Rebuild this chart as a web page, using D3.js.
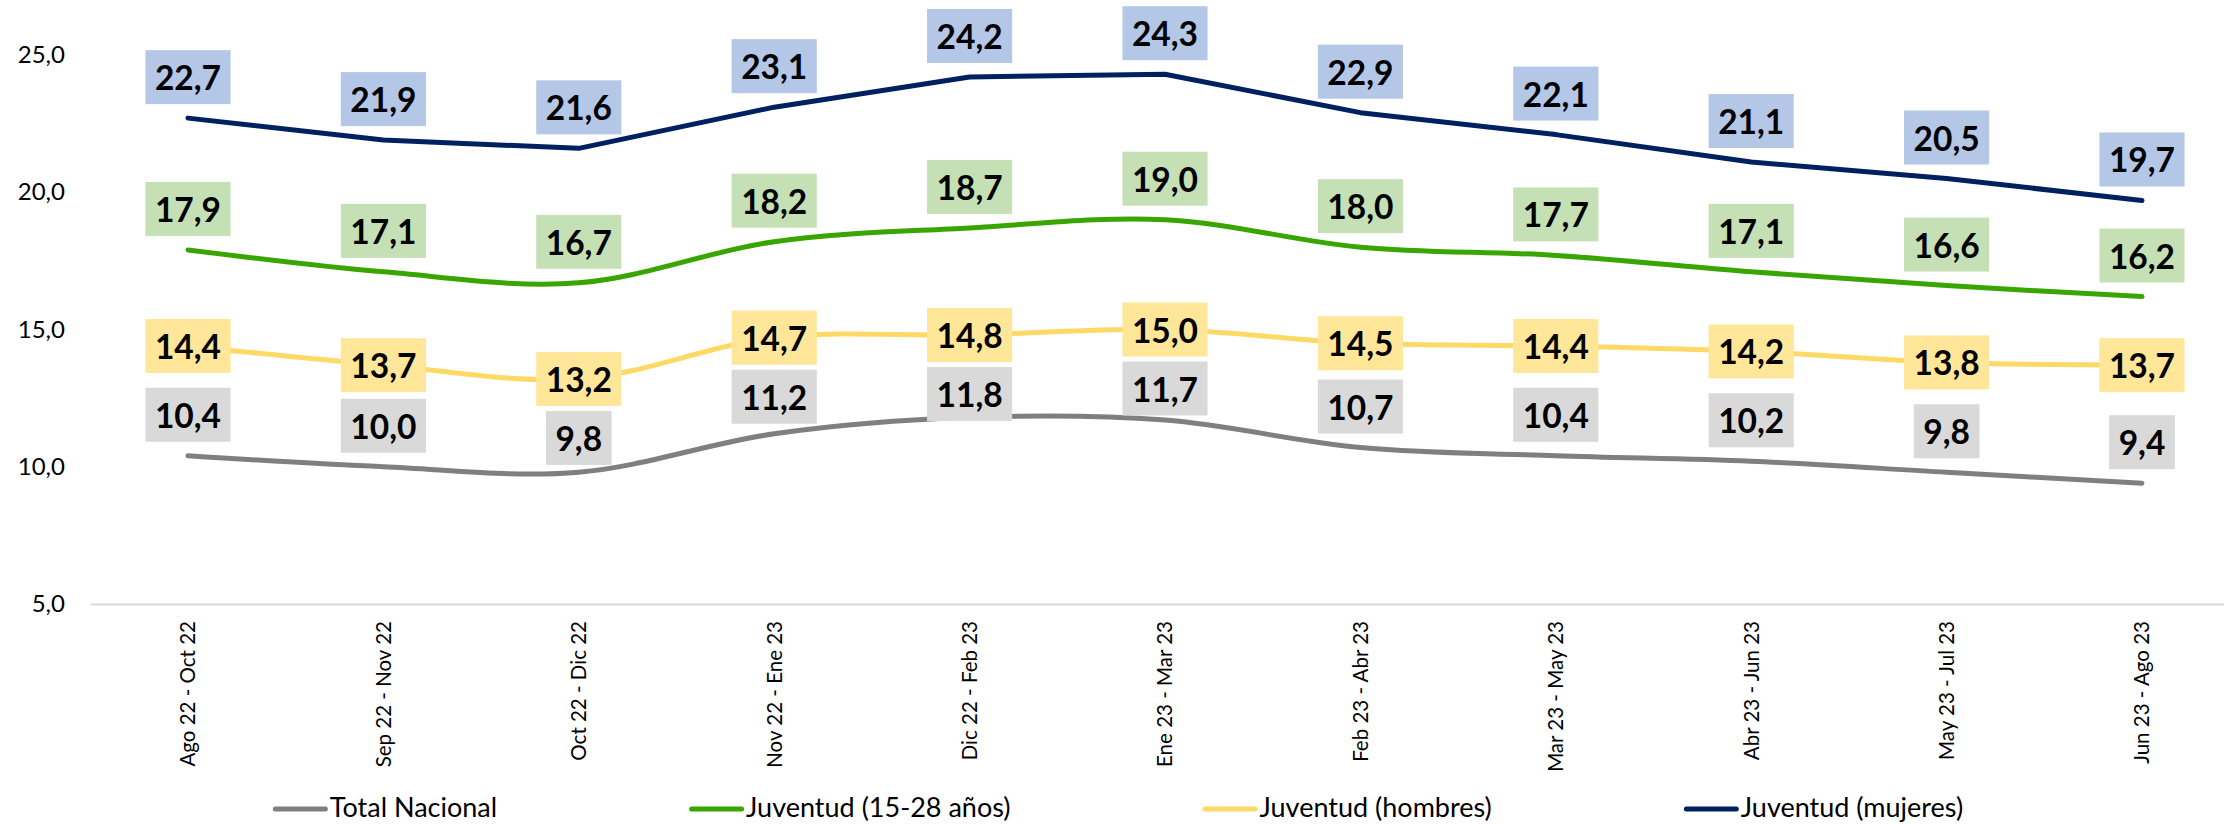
<!DOCTYPE html>
<html><head><meta charset="utf-8">
<script src="https://cdn.jsdelivr.net/npm/d3@7"></script>
<style>
body{margin:0;background:#fff}
svg{display:block;background:#fff}
text{font-family:Lato,'Open Sans',sans-serif}
</style>
</head><body>
<svg id="chart" width="2224" height="825"></svg>
<script>
const categories = ["Ago 22 - Oct 22","Sep 22 - Nov 22","Oct 22 - Dic 22","Nov 22 - Ene 23","Dic 22 - Feb 23","Ene 23 - Mar 23","Feb 23 - Abr 23","Mar 23 - May 23","Abr 23 - Jun 23","May 23 - Jul 23","Jun 23 - Ago 23"];
const totalNacional   = [10.4, 10.0, 9.8, 11.2, 11.8, 11.7, 10.7, 10.4, 10.2, 9.8, 9.4];
const juventud        = [17.9, 17.1, 16.7, 18.2, 18.7, 19.0, 18.0, 17.7, 17.1, 16.6, 16.2];
const juventudHombres = [14.4, 13.7, 13.2, 14.7, 14.8, 15.0, 14.5, 14.4, 14.2, 13.8, 13.7];
const juventudMujeres = [22.7, 21.9, 21.6, 23.1, 24.2, 24.3, 22.9, 22.1, 21.1, 20.5, 19.7];
const seriesNames = ["Total Nacional","Juventud (15-28 años)","Juventud (hombres)","Juventud (mujeres)"];
const yTicks = [5, 10, 15, 20, 25];

const svg = d3.select("#chart");
const xBand = d3.scaleBand().domain(categories).range([90.3, 2239.7]).padding(0);
const xc = c => xBand(c) + xBand.bandwidth() / 2;
const y = d3.scaleLinear().domain([5, 25]).range([604, 55]);
const loc = d3.formatLocale({decimal: ",", thousands: ".", grouping: [3], currency: ["", ""]});
const fmt = loc.format(".1f");

const smooth = d3.curveCatmullRom.alpha(0);
const series = [
  {name: seriesNames[0], values: totalNacional,   line: "#7F7F7F", box: "#D9D9D9", curve: smooth, pos: "above"},
  {name: seriesNames[1], values: juventud,        line: "#38A500", box: "#C5E0B4", curve: smooth, pos: "above"},
  {name: seriesNames[2], values: juventudHombres, line: "#FFD966", box: "#FFE699", curve: smooth, pos: "center"},
  {name: seriesNames[3], values: juventudMujeres, line: "#002060", box: "#B4C7E7", curve: d3.curveLinear, pos: "above"}
];

// X axis (baseline + rotated labels)
const xAxis = svg.append("g").attr("transform", `translate(0,${y(5)})`)
  .call(d3.axisBottom(xBand).tickSize(0).tickSizeOuter(0));
xAxis.select(".domain").attr("stroke", "#D9D9D9").attr("stroke-width", 2);
xAxis.selectAll(".tick text")
  .attr("transform", "rotate(-90)")
  .attr("text-anchor", "end")
  .attr("x", -17).attr("y", 0).attr("dy", "0.36em")
  .attr("font-size", 20.5).attr("fill", "#000")
  .style("font-family", "Lato, 'Open Sans', sans-serif");

// Y axis
const yAxis = svg.append("g").attr("transform", "translate(92,0)")
  .call(d3.axisLeft(y).tickValues(yTicks).tickFormat(fmt).tickSize(0).tickPadding(27));
yAxis.select(".domain").remove();
yAxis.selectAll(".tick text").attr("font-size", 24).attr("fill", "#000")
  .style("font-family", "Lato, 'Open Sans', sans-serif");

// Lines
const linesG = svg.append("g");
series.forEach(s => {
  const line = d3.line().x((d, i) => xc(categories[i])).y(d => y(d)).curve(s.curve);
  linesG.append("path").datum(s.values)
    .attr("d", line).attr("fill", "none")
    .attr("stroke", s.line).attr("stroke-width", 5)
    .attr("stroke-linecap", "round").attr("stroke-linejoin", "round");
});

// Data labels
const boxH = 54, pad = 9.5, aboveOff = 41;
const labelsG = svg.append("g");
const yellowBottom = juventudHombres.map(v => y(v) + boxH / 2);
series.forEach((s, si) => {
  s.values.forEach((v, i) => {
    const cx = xc(categories[i]);
    const py = y(v);
    let cy;
    if (s.pos === "center") cy = py;
    else {
      let top = py - aboveOff - boxH / 2;
      if (si === 0) top = Math.max(top, yellowBottom[i] + 5);
      cy = top + boxH / 2;
    }
    const g = labelsG.append("g");
    const rect = g.append("rect").attr("fill", s.box);
    const t = g.append("text").text(fmt(v))
      .attr("x", cx).attr("y", cy + 13)
      .attr("text-anchor", "middle")
      .attr("font-size", 33.5).attr("font-weight", 700).attr("fill", "#000");
    const w = t.node().getComputedTextLength() + 2 * pad;
    rect.attr("x", cx - w / 2).attr("y", cy - boxH / 2).attr("width", w).attr("height", boxH);
  });
});

// Legend
const legG = svg.append("g");
const items = series.map(s => {
  const g = legG.append("g");
  g.append("line").attr("x1", 2.5).attr("x2", 52.5).attr("y1", 809).attr("y2", 809)
    .attr("stroke", s.line).attr("stroke-width", 5).attr("stroke-linecap", "round");
  const t = g.append("text").text(s.name).attr("x", 57).attr("y", 817)
    .attr("font-size", 27).attr("fill", "#000");
  return {g, w: 57 + t.node().getComputedTextLength()};
});
const gap = 192;
const total = d3.sum(items, d => d.w) + gap * (items.length - 1);
let sx = 1118 - total / 2;
items.forEach(it => { it.g.attr("transform", `translate(${sx},0)`); sx += it.w + gap; });
</script>
</body></html>
